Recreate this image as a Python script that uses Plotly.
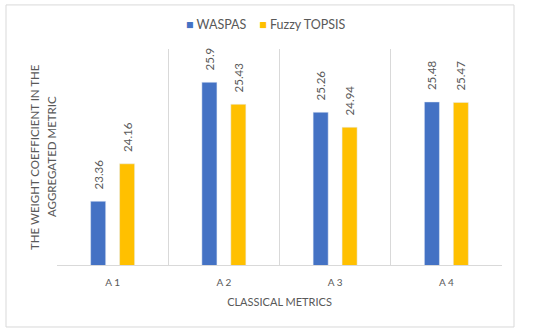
import plotly.graph_objects as go

categories = ["A 1", "A 2", "A 3", "A 4"]
waspas = [23.36, 25.9, 25.26, 25.48]
fuzzy_topsis = [24.16, 25.43, 24.94, 25.47]
waspas_labels = ["23.36", "25.9", "25.26", "25.48"]
fuzzy_labels = ["24.16", "25.43", "24.94", "25.47"]
series_names = ["WASPAS", "Fuzzy TOPSIS"]
y_title_lines = ["THE WEIGHT COEFFICIENT IN THE", "AGGREGATED METRIC"]

FONT = "Lato, 'Open Sans', sans-serif"
GRAY = "#595959"
BLUE = "#4472C4"
GOLD = "#FFC000"
colors = [BLUE, GOLD]

fig = go.Figure()
for name, vals, labels, color in [(series_names[0], waspas, waspas_labels, BLUE),
                                  (series_names[1], fuzzy_topsis, fuzzy_labels, GOLD)]:
    fig.add_trace(go.Bar(
        x=categories, y=vals, name=name, marker_color=color, showlegend=False,
        text=labels, texttemplate="\u00a0\u00a0\u00a0%{text}",
        textposition="outside", textangle=-90, constraintext="none",
        textfont=dict(size=11.5, color=GRAY, family=FONT), cliponaxis=False,
    ))

annotations = []
for i, line in enumerate(y_title_lines):
    annotations.append(dict(
        text=line, xref="paper", yref="paper", x=(34 + 17 * i - 57) / 445, y=0.5,
        xanchor="center", yanchor="middle", textangle=-90, showarrow=False,
        font=dict(size=11.5, color=GRAY, family=FONT),
    ))
legend_text = "\u00a0\u00a0\u00a0\u00a0".join(
    f"<span style='color:{c}'>\u25a0</span> {n}" for n, c in zip(series_names, colors))
annotations.append(dict(
    text=legend_text, xref="paper", yref="paper", x=(266 - 57) / 445, y=(265 - 25) / 216,
    xanchor="center", yanchor="middle", showarrow=False,
    font=dict(size=12.5, color=GRAY, family=FONT),
))

fig.update_layout(
    width=550, height=335,
    margin=dict(l=57, r=48, t=49, b=70, autoexpand=False),
    paper_bgcolor="white", plot_bgcolor="white",
    barmode="group", bargap=0.48, bargroupgap=0.48,
    font=dict(family=FONT, color=GRAY, size=11),
    showlegend=False,
    xaxis=dict(
        tickson="boundaries", showgrid=True, gridcolor="#d9d9d9", gridwidth=1,
        ticks="", showline=True, linecolor="#d9d9d9", automargin=False,
        tickfont=dict(size=10, color=GRAY), ticklabelstandoff=8,
        title=dict(text="CLASSICAL METRICS", font=dict(size=11, color=GRAY), standoff=11),
    ),
    yaxis=dict(
        range=[22, 26.61], showgrid=False, showticklabels=False, ticks="",
        zeroline=False, showline=False, automargin=False,
    ),
    annotations=annotations,
    shapes=[dict(type="rect", xref="paper", yref="paper",
                 x0=-0.1146, x1=1.027, y0=-0.287, y1=1.204,
                 line=dict(color="#d9d9d9", width=1), fillcolor="rgba(0,0,0,0)",
                 layer="below")],
)

fig.write_html("out.html", config={"displayModeBar": False},
               post_script="document.body.style.margin='0';")
